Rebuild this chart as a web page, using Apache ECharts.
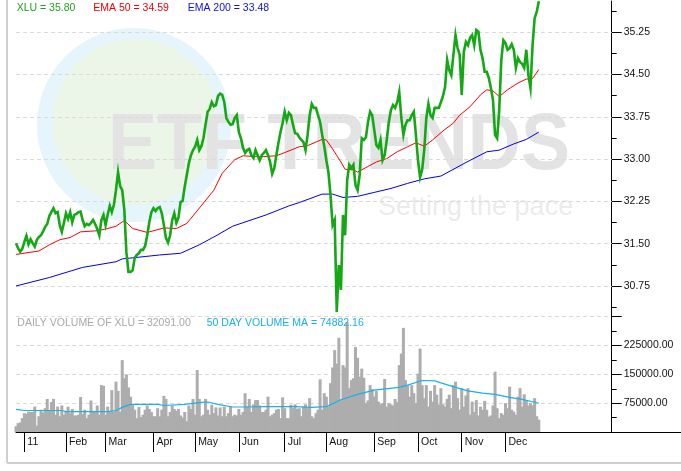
<!DOCTYPE html>
<html><head><meta charset="utf-8">
<script src="https://cdn.jsdelivr.net/npm/echarts@6/dist/echarts.min.js"></script>
<style>html,body{margin:0;padding:0;background:#fff}#c{width:681px;height:471px}</style>
</head><body><div id="c"></div>
<script>
// ---- data ----
const prices = [
31.51,31.42,31.36,31.41,31.53,31.64,31.49,31.58,31.51,31.45,
31.57,31.62,31.65,31.72,31.80,31.85,31.99,32.06,32.13,32.04,
32.06,31.83,31.71,31.87,32.04,31.94,32.06,31.88,32.01,32.03,
32.06,32.07,31.92,31.81,31.85,31.83,31.87,31.92,31.85,31.76,
31.65,31.92,32.01,31.83,32.01,32.17,32.06,32.19,32.45,32.77,
32.52,32.45,32.10,31.35,31.00,31.00,31.03,31.25,31.30,31.33,
31.39,31.39,31.46,31.65,31.88,32.06,32.13,32.08,32.13,32.15,
32.04,31.83,31.60,31.52,31.65,31.92,32.04,31.87,31.96,32.24,
32.26,32.51,32.72,32.93,33.07,33.16,33.22,33.34,33.16,33.23,
33.37,33.61,33.84,33.89,34.01,33.94,33.96,34.12,34.16,34.14,
34.01,33.73,33.66,33.61,33.62,33.73,33.78,33.48,33.37,33.20,
33.11,33.16,33.18,33.07,33.02,33.16,33.07,32.98,33.07,33.11,
33.16,33.07,32.95,32.74,32.84,33.07,33.29,33.48,33.64,33.84,
33.69,33.82,33.78,33.61,33.46,33.45,33.39,33.34,33.30,33.16,
33.43,33.78,33.98,33.91,33.91,33.78,33.66,33.43,33.23,32.98,
32.77,32.36,31.83,31.92,30.29,31.12,30.68,32.01,31.65,32.63,
32.90,32.84,32.90,32.54,32.45,32.72,33.37,33.34,33.39,33.66,
33.84,33.78,33.52,33.25,33.20,33.34,32.98,33.07,33.34,33.66,
33.87,33.96,33.91,34.01,34.19,33.73,33.43,33.61,33.69,33.69,
33.78,33.84,33.43,32.98,32.68,32.81,33.16,33.73,33.98,33.78,
33.73,33.91,33.91,33.91,34.01,34.12,34.28,34.76,34.58,34.49,
34.85,35.20,34.97,34.85,34.14,34.90,35.08,35.02,35.15,35.20,
35.02,35.29,35.26,34.94,34.79,34.55,34.55,34.44,34.26,34.05,
33.43,33.37,33.87,34.76,35.11,35.06,34.94,34.97,35.04,34.94,
34.62,34.79,34.72,34.69,34.62,34.94,34.49,34.26,35.02,35.50,
35.61,35.80];

const ema50Days = [0,11,16,21,26,31,39,43,48,52,56,63,71,77,82,88,95,99,105,109,117,125,130,136,140,147,149,152,156,158,162,164,168,173,178,183,188,192,196,200,205,210,213,218,223,226,229,232,236,241,245,248,251];
const ema50Values = [31.31,31.37,31.48,31.57,31.61,31.71,31.73,31.76,31.81,31.91,31.77,31.70,31.78,31.77,31.86,32.13,32.45,32.75,32.99,33.06,33.04,33.06,33.13,33.22,33.24,33.35,33.34,33.18,32.95,32.82,32.81,32.77,32.85,32.95,33.01,33.13,33.22,33.29,33.23,33.34,33.50,33.64,33.78,33.93,34.14,34.23,34.21,34.11,34.23,34.35,34.42,34.43,34.59];

const ema200Days = [0,16,32,48,51,69,79,88,96,104,120,131,136,147,152,157,164,172,180,188,196,204,216,226,232,239,245,251];
const ema200Values = [30.75,30.90,31.08,31.18,31.23,31.30,31.33,31.48,31.64,31.81,32.01,32.17,32.23,32.38,32.38,32.32,32.34,32.41,32.48,32.57,32.65,32.70,32.94,33.13,33.16,33.27,33.35,33.48];

// daily volume, in thousands of shares
const volumeK = [
15,23,25,36,49,47,53,52,52,66,17,41,58,
51,62,86,55,78,86,45,66,41,69,45,53,66,49,60,43,43,45,91,47,58,36,45,82,55,
53,69,45,122,120,45,66,52,109,53,131,107,53,187,140,150,116,92,71,58,36,65,39,45,58,
69,60,52,41,41,62,41,58,94,86,41,52,69,60,55,60,43,38,52,28,69,60,86,45,161,86,
41,45,86,58,45,71,49,64,43,64,41,66,41,49,66,41,45,43,60,45,52,101,66,86,
52,72,83,83,69,52,52,58,92,41,45,49,
58,60,36,90,62,36,36,71,62,72,60,62,41,66,72,62,
88,41,36,49,58,137,58,101,92,66,127,168,213,178,245,84,174,168,286,114,135,140,221,193,144,165,
141,75,82,122,112,92,107,79,72,75,138,66,75,72,69,86,78,174,204,271,135,122,92,122,101,75,
152,217,122,88,122,66,107,79,122,97,71,114,72,66,86,97,62,122,131,88,58,114,66,95,114,45,
79,52,83,43,66,58,81,58,40,43,69,157,62,36,49,45,75,62,118,58,53,45,92,114,66,98,
81,69,75,69,88,41,32.091];

const volMaDays = [0,4,22,24,33,44,48,51,55,68,71,81,89,92,97,104,110,120,126,134,142,149,156,164,172,184,188,195,201,211,217,224,230,237,243,251];
const volMaK = [59,56,56,53,53,53,56,64,72,72,69,72,77,78,72,65,65,66,66,66,64,66,84,98,109,116,122,134,133,116,107,101,98,90,85,74.88216];

const monthTickDays = [4,24,43,66,86,107,129,149,172,193,214,235];
const monthLabels = ['11','Feb','Mar','Apr','May','Jun','Jul','Aug','Sep','Oct','Nov','Dec'];
const priceMajorTicks = [30.75,31.5,32.25,33,33.75,34.5,35.25];
const priceMinorTicks = [30.375,31.125,31.875,32.625,33.375,34.125,34.875,35.625];

const legendPrice = 'XLU = 35.80';
const legendEma50 = 'EMA 50 = 34.59';
const legendEma200 = 'EMA 200 = 33.48';
const legendVolume = 'DAILY VOLUME OF XLU = 32091.00';
const legendVolMa = '50 DAY VOLUME MA = 74882.16';

// ---- chart ----
const FONT = '"Liberation Sans", Arial, sans-serif';
const pairs = (xs, ys) => xs.map((x, i) => [x, ys[i]]);
const chart = echarts.init(document.getElementById('c'), null, {renderer: 'canvas'});
const axisText = {color: '#111', fontSize: 10.5, fontFamily: FONT};
const gridDash = {type: [4, 3], color: '#dadada', width: 1};

chart.setOption({
  animation: false,
  backgroundColor: '#fff',
  grid: [
    {left: 16, right: 69.3, top: 1, height: 316},
    {left: 16, right: 69.3, top: 316.7, height: 115.3}
  ],
  xAxis: [
    {gridIndex: 0, type: 'value', min: 0, max: 286, show: false},
    {gridIndex: 1, type: 'value', min: 0, max: 286,
     axisLine: {show: true, onZero: false, lineStyle: {color: '#000', width: 1}},
     axisTick: {show: true, customValues: monthTickDays, length: 20, lineStyle: {color: '#000'}},
     axisLabel: Object.assign({customValues: monthTickDays,
       formatter: v => monthLabels[monthTickDays.indexOf(v)] || '',
       align: 'left', verticalAlign: 'middle', margin: 10, padding: [0, 0, 0, 3]}, axisText),
     splitLine: {show: false}}
  ],
  yAxis: [
    {gridIndex: 0, type: 'value', position: 'right', min: 30.2, max: 35.805,
     axisLine: {show: true, onZero: false, lineStyle: {color: '#000', width: 1}},
     axisTick: {show: true, customValues: priceMajorTicks, length: 10, lineStyle: {color: '#000'}},
     axisLabel: Object.assign({customValues: priceMajorTicks, formatter: v => v.toFixed(2), margin: 12}, axisText),
     splitLine: {show: false}},
    {gridIndex: 0, type: 'value', position: 'right', min: 30.2, max: 35.805,
     axisLine: {show: false, onZero: false},
     axisTick: {show: true, customValues: priceMinorTicks, length: 5, lineStyle: {color: '#000'}},
     axisLabel: {show: false}, splitLine: {show: false}},
    {gridIndex: 1, type: 'value', position: 'right', min: 0, max: 300000, interval: 75000,
     axisLine: {show: true, onZero: false, lineStyle: {color: '#000', width: 1}},
     axisTick: {show: true, length: 10, lineStyle: {color: '#000'}},
     minorTick: {show: true, splitNumber: 2, length: 5, lineStyle: {color: '#000'}},
     axisLabel: Object.assign({formatter: v => (v > 0 && v < 300000) ? v.toFixed(2) : '', margin: 12}, axisText),
     splitLine: {show: true, lineStyle: gridDash}}
  ],
  series: [
    {type: 'line', name: 'EMA 200', xAxisIndex: 0, yAxisIndex: 0, z: 3,
     data: pairs(ema200Days, ema200Values), showSymbol: false, symbol: 'none', silent: true,
     lineStyle: {color: '#0000ee', width: 1},
     markLine: {silent: true, z: 1, symbol: ['none', 'none'], label: {show: false},
       lineStyle: gridDash, emphasis: {disabled: true},
       data: priceMajorTicks.map(v => ({yAxis: v}))}},
    {type: 'line', name: 'EMA 50', xAxisIndex: 0, yAxisIndex: 0, z: 3,
     data: pairs(ema50Days, ema50Values), showSymbol: false, symbol: 'none', silent: true,
     lineStyle: {color: '#ff0000', width: 1}},
    {type: 'line', name: 'XLU', xAxisIndex: 0, yAxisIndex: 0, z: 4,
     data: prices.map((v, i) => [i, v]), showSymbol: false, symbol: 'none', silent: true,
     lineStyle: {color: '#14a814', width: 2.6, join: 'miter'}},
    {type: 'bar', name: 'Volume', xAxisIndex: 1, yAxisIndex: 2, z: 2,
     data: volumeK.map((v, i) => [i, v * 1000]), barWidth: 3, silent: true,
     itemStyle: {color: '#adadad'}},
    {type: 'line', name: 'Volume MA', xAxisIndex: 1, yAxisIndex: 2, z: 4,
     data: pairs(volMaDays, volMaK.map(v => v * 1000)), showSymbol: false, symbol: 'none', silent: true,
     lineStyle: {color: '#19b0f0', width: 1.2}}
  ],
  graphic: {elements: [
    {type: 'circle', z: -20, silent: true, shape: {cx: 134, cy: 125, r: 97}, style: {fill: '#e6f4fb'}},
    {type: 'circle', z: -19, silent: true, shape: {cx: 135, cy: 122, r: 83}, style: {fill: '#ebf5e8'}},
    {type: 'text', z: -18, silent: true, x: 108, y: 147, scaleX: 0.92,
     style: {text: 'ETF TRENDS', fill: '#e3e3e3', font: 'bold 80px ' + FONT, align: 'left', verticalAlign: 'middle'}},
    {type: 'text', z: -18, silent: true, x: 378, y: 208,
     style: {text: 'Setting the pace', fill: '#ebebeb', font: '27px ' + FONT, align: 'left', verticalAlign: 'middle'}},
    {type: 'line', z: 5, silent: true, shape: {x1: 7, y1: 0, x2: 7, y2: 463}, style: {stroke: '#cfcfcf', lineWidth: 2}},
    {type: 'line', z: 5, silent: true, shape: {x1: 7, y1: 463, x2: 681, y2: 463}, style: {stroke: '#cfcfcf', lineWidth: 2}},
    {type: 'line', z: 5, silent: true, shape: {x1: 611.7, y1: 432.5, x2: 681, y2: 432.5}, style: {stroke: '#000', lineWidth: 1}},
    {type: 'text', z: 10, silent: true, x: 16.7, y: 8.3, style: {text: legendPrice, fill: '#1f9f1f', font: '10.5px ' + FONT, verticalAlign: 'middle'}},
    {type: 'text', z: 10, silent: true, x: 93.3, y: 8.3, style: {text: legendEma50, fill: '#f00000', font: '10.5px ' + FONT, verticalAlign: 'middle'}},
    {type: 'text', z: 10, silent: true, x: 187.7, y: 8.3, style: {text: legendEma200, fill: '#1010e0', font: '10.5px ' + FONT, verticalAlign: 'middle'}},
    {type: 'text', z: 10, silent: true, x: 17.3, y: 323.5, style: {text: legendVolume, fill: '#a8a8a8', font: '10.5px ' + FONT, verticalAlign: 'middle'}},
    {type: 'text', z: 10, silent: true, x: 206.7, y: 323.5, style: {text: legendVolMa, fill: '#19aef0', font: '10.5px ' + FONT, verticalAlign: 'middle'}}
  ]}
});
</script>
</body></html>
